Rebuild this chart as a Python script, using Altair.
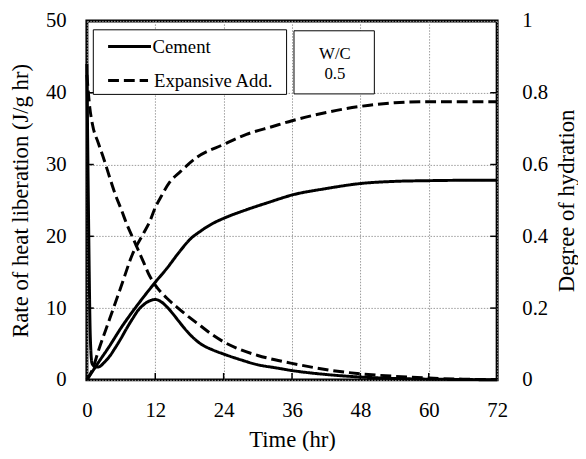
import altair as alt
import pandas as pd

# ---------------- data ----------------
time_ticks = [0, 12, 24, 36, 48, 60, 72]
rate_ticks = [0, 10, 20, 30, 40, 50]
deg_ticks = [0, 0.2, 0.4, 0.6, 0.8, 1]
materials = ["Cement", "Expansive Add."]

cement_rate_t = [0, 0.3, 0.6, 0.9, 1.5, 2, 3, 4, 5, 6, 7, 8, 9, 10, 11, 12, 13, 14, 15, 16,
                 17, 18, 20, 22, 24, 27, 30, 33, 36, 42, 48, 54, 60, 66, 72]
cement_rate = [44, 22, 6, 2.3, 1.8, 1.8, 2.4, 3.3, 4.5, 5.8, 7.2, 8.5, 9.7, 10.5, 11.0, 11.2,
               10.9, 10.2, 9.3, 8.3, 7.3, 6.4, 5.0, 4.2, 3.6, 2.8, 2.1, 1.7, 1.3, 0.75, 0.4,
               0.2, 0.1, 0.05, 0.02]

exp_rate_t = [0, 0.5, 1, 2, 3, 4, 5, 6, 7, 8, 9, 10, 11, 12, 13, 14, 16, 18, 20, 22, 24, 27,
              30, 33, 36, 40, 44, 48, 54, 60, 66, 72]
exp_rate = [42.5, 38, 35.5, 33, 30.7, 28.2, 25.8, 23.8, 21.7, 19.9, 18.1, 16.3, 14.5, 13.2,
            12.2, 11.4, 10.0, 8.7, 7.5, 6.3, 5.3, 4.2, 3.4, 2.8, 2.3, 1.7, 1.2, 0.85, 0.5,
            0.25, 0.1, 0.05]

cement_deg_t = [0, 2, 4, 6, 8, 10, 12, 14, 16.4, 18, 20, 22, 24, 28, 32, 36, 42, 48, 54, 60,
                66, 72]
cement_deg = [0, 0.048, 0.095, 0.145, 0.19, 0.232, 0.272, 0.31, 0.36, 0.39, 0.415, 0.435,
              0.45, 0.474, 0.495, 0.515, 0.533, 0.547, 0.553, 0.555, 0.556, 0.556]

exp_deg_t = [0, 1, 2, 4, 6, 8, 10, 11, 12, 13, 14.5, 16.4, 19.3, 24, 28, 32.6, 36, 42, 48, 54,
             60, 66, 72]
exp_deg = [0, 0.03, 0.08, 0.17, 0.26, 0.35, 0.41, 0.44, 0.48, 0.51, 0.55, 0.58, 0.62, 0.656,
           0.684, 0.706, 0.722, 0.745, 0.762, 0.772, 0.775, 0.775, 0.775]

# ---------------- tables ----------------
rate_df = pd.concat([
    pd.DataFrame({"t": cement_rate_t, "v": cement_rate, "material": materials[0]}),
    pd.DataFrame({"t": exp_rate_t, "v": exp_rate, "material": materials[1]}),
])
deg_df = pd.concat([
    pd.DataFrame({"t": cement_deg_t, "v": cement_deg, "material": materials[0]}),
    pd.DataFrame({"t": exp_deg_t, "v": exp_deg, "material": materials[1]}),
])

FONT = "Liberation Serif"
W, H = 416, 364
GRID_DASH = [1.5, 1.5]

x_enc = alt.X(
    "t:Q",
    scale=alt.Scale(domain=[0, 72], nice=False),
    axis=alt.Axis(values=time_ticks, title="Time (hr)", grid=True, gridDash=GRID_DASH,
                  gridColor="#9a9a9a", gridWidth=1, tickSize=0, domain=False,
                  labelFlush=False, labelPadding=20, titlePadding=9),
)
y_rate = alt.Y(
    "v:Q",
    scale=alt.Scale(domain=[0, 50], nice=False),
    axis=alt.Axis(values=rate_ticks, title="Rate of heat liberation (J/g hr)", grid=True,
                  gridDash=GRID_DASH, gridColor="#9a9a9a", gridWidth=1, tickSize=0,
                  domain=False, labelFlush=False, labelPadding=21, titlePadding=13),
)
y_deg = alt.Y(
    "v:Q",
    scale=alt.Scale(domain=[0, 1], nice=False),
    axis=alt.Axis(orient="right", values=deg_ticks, format=".1~f",
                  title="Degree of hydration", grid=False, tickSize=0, domain=False,
                  labelFlush=False, labelPadding=25, titlePadding=8, titleAngle=270,
                  titleBaseline="top"),
)
dash_enc = alt.StrokeDash(
    "material:N",
    scale=alt.Scale(domain=materials, range=[[1, 0], [11, 5]]),
    legend=None,
)

rate_lines = alt.Chart(rate_df).mark_line(color="black", strokeWidth=3,
                                          interpolate="monotone").encode(
    x=x_enc, y=y_rate, strokeDash=dash_enc, detail="material:N")
deg_lines = alt.Chart(deg_df).mark_line(color="black", strokeWidth=3,
                                        interpolate="monotone").encode(
    x=x_enc, y=y_deg, strokeDash=dash_enc, detail="material:N")

# inward tick marks
xt = alt.Chart(pd.DataFrame({"t": time_ticks[1:-1]})).mark_rule(
    color="black", strokeWidth=1.5).encode(x=x_enc, y=alt.value(H), y2=alt.value(H - 7))
lt = alt.Chart(pd.DataFrame({"v": rate_ticks[1:-1]})).mark_rule(
    color="black", strokeWidth=1.5).encode(y=y_rate, x=alt.value(0), x2=alt.value(7))
rt = alt.Chart(pd.DataFrame({"v": deg_ticks[1:-1]})).mark_rule(
    color="black", strokeWidth=1.5).encode(y=y_deg, x=alt.value(W), x2=alt.value(W - 7))

one = pd.DataFrame({"a": [0]})
legend_box = alt.Chart(one).mark_rect(fill="white", stroke="black", strokeWidth=1).encode(
    x=alt.value(6.5), x2=alt.value(202.5), y=alt.value(9), y2=alt.value(74.5))
wc_box = alt.Chart(one).mark_rect(fill="white", stroke="black", strokeWidth=1).encode(
    x=alt.value(210), x2=alt.value(291.5), y=alt.value(10), y2=alt.value(74))
leg_solid = alt.Chart(one).mark_rule(color="black", strokeWidth=3).encode(
    x=alt.value(21.5), x2=alt.value(65), y=alt.value(26))
leg_dash = alt.Chart(one).mark_rule(color="black", strokeWidth=3, strokeDash=[11, 5]).encode(
    x=alt.value(21.5), x2=alt.value(62), y=alt.value(60.5))
leg_t1 = alt.Chart(one).mark_text(font=FONT, fontSize=19, align="left", baseline="middle",
                                  color="black").encode(
    x=alt.value(66.5), y=alt.value(27), text=alt.value(materials[0]))
leg_t2 = alt.Chart(one).mark_text(font=FONT, fontSize=19, align="left", baseline="middle",
                                  color="black").encode(
    x=alt.value(68), y=alt.value(61), text=alt.value(materials[1]))
wc_t1 = alt.Chart(one).mark_text(font=FONT, fontSize=17, align="center", baseline="middle",
                                 color="black").encode(
    x=alt.value(251.5), y=alt.value(33.7), text=alt.value("W/C"))
wc_t2 = alt.Chart(one).mark_text(font=FONT, fontSize=17, align="center", baseline="middle",
                                 color="black").encode(
    x=alt.value(251.5), y=alt.value(53.7), text=alt.value("0.5"))

left = alt.layer(rate_lines, xt, lt, legend_box, wc_box, leg_solid, leg_dash, leg_t1, leg_t2,
                 wc_t1, wc_t2)
right = alt.layer(deg_lines, rt)

chart = alt.layer(left, right).resolve_scale(y="independent").properties(
    width=W, height=H,
    padding={"left": 80, "top": 10, "right": 82, "bottom": 69},
    autosize=alt.AutoSizeParams(type="none"),
).configure_view(
    stroke="black", strokeWidth=3
).configure_axis(
    labelFont=FONT, titleFont=FONT, labelFontSize=21, titleFontSize=23,
    labelColor="black", titleColor="black", titleFontWeight="normal",
)

chart.save("out.html", embed_options={"renderer": "svg", "actions": False})
